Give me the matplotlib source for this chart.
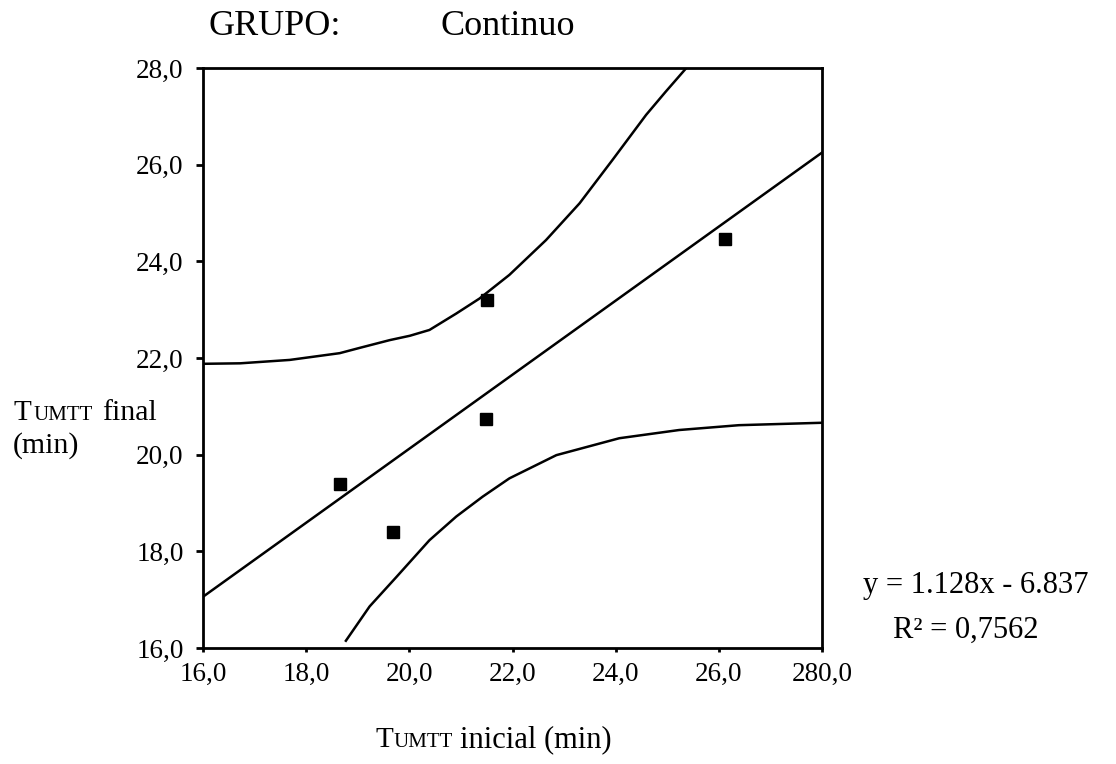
import numpy as np
import matplotlib
matplotlib.use('Agg')
import matplotlib.pyplot as plt

plt.rcParams['font.family'] = ['Liberation Serif', 'DejaVu Serif']

# observed points (T_UMTT inicial, T_UMTT final)
x_obs = [18.65, 19.68, 21.48, 21.50, 26.12]
y_obs = [19.40, 18.41, 20.74, 23.19, 24.46]

# fitted line, read at the plot edges
fit_x = [16.0, 28.0]
fit_y = [17.06, 26.25]

# upper band
up_x = [16.0, 16.72, 17.68, 18.65, 19.04, 19.62, 20.01, 20.39, 20.91, 21.36,
        21.94, 22.65, 23.30, 23.94, 24.59, 24.97, 25.37]
up_y = [21.88, 21.89, 21.96, 22.10, 22.21, 22.37, 22.46, 22.58, 22.92, 23.23,
        23.72, 24.44, 25.20, 26.10, 27.03, 27.51, 28.0]

# lower band
lo_x = [18.77, 19.23, 19.75, 20.39, 20.91, 21.42, 21.94, 22.85, 24.07, 25.23,
        26.39, 28.0]
lo_y = [16.15, 16.86, 17.47, 18.23, 18.72, 19.13, 19.51, 19.99, 20.34, 20.51,
        20.61, 20.66]

xticks = [16, 18, 20, 22, 24, 26, 28]
xticklabels = ['16,0', '18,0', '20,0', '22,0', '24,0', '26,0', '280,0']
yticks = [16, 18, 20, 22, 24, 26, 28]
yticklabels = ['16,0', '18,0', '20,0', '22,0', '24,0', '26,0', '28,0']

fig = plt.figure(figsize=(11.16, 7.64), dpi=100)
ax = fig.add_axes([203 / 1116, 1 - 648 / 764, 619 / 1116, 580 / 764])

ax.plot(fit_x, fit_y, 'k-', lw=1.8)
ax.plot(up_x, up_y, 'k-', lw=1.8)
ax.plot(lo_x, lo_y, 'k-', lw=1.8)
ax.plot(x_obs, y_obs, 's', color='k', ms=8.5, clip_on=False)

ax.set_xlim(16, 28)
ax.set_ylim(16, 28)
ax.set_xticks(xticks)
ax.set_xticklabels(xticklabels)
ax.set_yticks(yticks)
ax.set_yticklabels(yticklabels)
ax.tick_params(direction='out', width=2, labelsize=19.5)
ax.tick_params(axis='x', length=3, pad=7)
ax.tick_params(axis='y', length=5, pad=9)
for s in ax.spines.values():
    s.set_linewidth(2)

W, H = 1116, 764
def put(px, py, txt, size, **kw):
    # py is the baseline in pixels from the top
    fig.text(px / W, 1 - py / H, txt, fontsize=size, va='baseline', ha='left', **kw)

# title
put(208, 35, 'GRUPO:', 26)
put(440, 35, 'Continuo', 26)

# y label
put(13, 420, 'T', 21)
put(34, 420, 'UMTT', 15)
put(102, 420, 'final', 21.5)
put(13, 453, '(min)', 21.5)

# x label
put(375, 747, 'T', 21)
put(394, 747, 'UMTT', 15)
put(460, 747, 'inicial (min)', 22)

# equation
put(863, 593, 'y = 1.128x - 6.837', 22)
put(893, 638, 'R² = 0,7562', 22)

fig.savefig('out.png', dpi=100)
